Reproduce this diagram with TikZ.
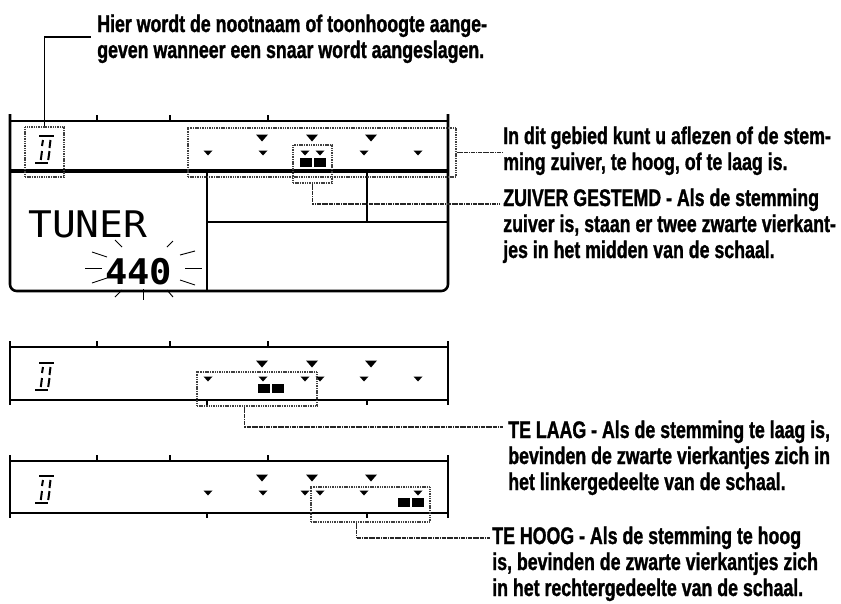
\documentclass[tikz,border=0pt]{standalone}
\usepackage{fontspec}
\newfontfamily\lab{Liberation Sans Bold}[FakeStretch=0.74, FakeBold=1.2]
\newfontfamily\lcd{DejaVu Sans Mono}[FakeStretch=1.08]
\newfontfamily\lcdb{DejaVu Sans Mono Bold}[FakeStretch=1.05]
\usetikzlibrary{fit,calc}
\newcommand\noteglyph[2]{%
  \begin{scope}[shift={(#1,#2)}]
    \draw[seg] (4,0) -- (19,0);
    \draw[seg] (8,4) -- (7,10);
    \draw[seg] (15.5,4) -- (14.5,12);
    \draw[seg] (7,15) -- (5.8,24);
    \draw[seg] (14.5,15) -- (13.2,24);
    \draw[seg] (0,27) -- (13,27);
  \end{scope}}
\newcommand\tuningrow[1]{%
  \foreach \xx in {262,312,371} {\fill[shift={(\xx,#1+17)}] (-6,-3.5) -- (6,-3.5) -- (0,3.5) -- cycle;}
  \foreach \xx in {208,263,305,320,364,418} {\fill[shift={(\xx,#1+32)}] (-4.5,-2.5) -- (4.5,-2.5) -- (0,2.5) -- cycle;}}
\newcommand\squares[2]{%
  \fill (#1,#2+37) rectangle (#1+12,#2+46);
  \fill (#1+14,#2+37) rectangle (#1+26,#2+46);}
\newcommand\strip[2]{% top, bottom
  \draw[frame] (10,#1-6) -- (10,#2+5);
  \draw[frame] (448,#1-6) -- (448,#2+5);
  \draw[frame] (10,#1) -- (448,#1);
  \draw[frame] (10,#2) -- (448,#2);
  \foreach \xx in {97,170,268} {\draw[frame] (\xx,#1) -- (\xx,#1-6);}
  \foreach \xx in {207,367} {\draw[frame] (\xx,#2) -- (\xx,#2+5);}}
\begin{document}
\begin{tikzpicture}[x=0.75pt,y=-0.75pt,
  frame/.style={line width=1.9pt, line cap=butt},
  seg/.style={line width=1.5pt, line cap=butt},
  dotbox/.style={draw=black!75, line width=1.1pt, dash pattern=on 0.8pt off 0.5pt, inner sep=0pt},
  lead/.style={draw=black!85, line width=0.9pt, dash pattern=on 1pt off 0.3pt},
  ray/.style={line width=0.7pt},
  txt/.style={font=\lab\fontsize{18}{19.5}\selectfont, anchor=base west, align=left, inner sep=0pt},
]
\useasboundingbox (0,0) rectangle (841,603);

% ---------- panel 1 ----------
\draw[frame, rounded corners=5] (10,114) -- (10,291) -- (448,291) -- (448,114);
\draw[frame] (10,121) -- (448,121);
\foreach \xx in {97,170,268} {\draw[frame] (\xx,121) -- (\xx,115);}
\draw[line width=2.4pt] (10,171) -- (448,171);
\draw[frame] (207,171) -- (207,291);
\draw[frame] (367,171) -- (367,222);
\draw[frame] (207,222) -- (448,222);
\tuningrow{121}
\squares{300}{121}
\noteglyph{35}{136}

\node[font=\lcd\fontsize{27.5}{30}\selectfont, anchor=base west, inner sep=0pt] (tuner) at (28,237) {TUNER};
\node[font=\lcdb\fontsize{26.5}{30}\selectfont, anchor=base west, inner sep=0pt] (freq) at (105,284) {440};
\foreach \a/\b/\c/\d in {85/268/102/268, 92/252/107/257, 92/283/107/278, 115/240/122/247,
  167/247/173/241, 185/268/202/268, 180/255/195/251, 180/280/195/285, 143/289/143/300,
  115/297/122/290, 167/290/173/297}
  {\draw[ray] (\a,\b) -- (\c,\d);}

\node[dotbox, fit={(25,127) (64,177)}] (nb) {};
\node[dotbox, fit={(188,128) (456,177)}] (tb) {};
\node[dotbox, fit={(293,145) (332,183)}] (sb) {};

% ---------- panel 2 ----------
\strip{347}{400}
\tuningrow{347}
\squares{258}{347}
\noteglyph{35}{363}
\node[dotbox, fit={(197,372) (317,406)}] (lb) {};

% ---------- panel 3 ----------
\strip{461}{513}
\tuningrow{461}
\squares{398}{461}
\noteglyph{35}{476}
\node[dotbox, fit={(311,487) (430,522)}] (hb) {};

% ---------- texts (anchor = baseline of last line) ----------
\node[txt] (t1) at (97,58) {Hier wordt de nootnaam of toonhoogte aange-\\geven wanneer een snaar wordt aangeslagen.};
\node[txt] (t2) at (503,170) {In dit gebied kunt u aflezen of de stem-\\ming zuiver, te hoog, of te laag is.};
\node[txt] (t3) at (503,258) {ZUIVER GESTEMD - Als de stemming\\zuiver is, staan er twee zwarte vierkant-\\jes in het midden van de schaal.};
\node[txt] (t4) at (508,490) {TE LAAG - Als de stemming te laag is,\\bevinden de zwarte vierkantjes zich in\\het linkergedeelte van de schaal.};
\node[txt] (t5) at (492,596) {TE HOOG - Als de stemming te hoog\\is, bevinden de zwarte vierkantjes zich\\in het rechtergedeelte van de schaal.};

% ---------- leaders ----------
\coordinate (c1) at (91,37);
\coordinate (c2) at (502,152.5);
\coordinate (c3) at (500,204);
\coordinate (c4) at (503,427);
\coordinate (c5) at (490,538);
\draw[line width=1pt] (nb.north) |- (c1);
\draw[lead] (tb.east) -- (c2);
\draw[lead] (sb.south) |- (c3);
\draw[lead] ($(lb.south west)+(48,0)$) |- (c4);
\draw[lead] ($(hb.south west)+(46,0)$) |- (c5);
\end{tikzpicture}
\end{document}
